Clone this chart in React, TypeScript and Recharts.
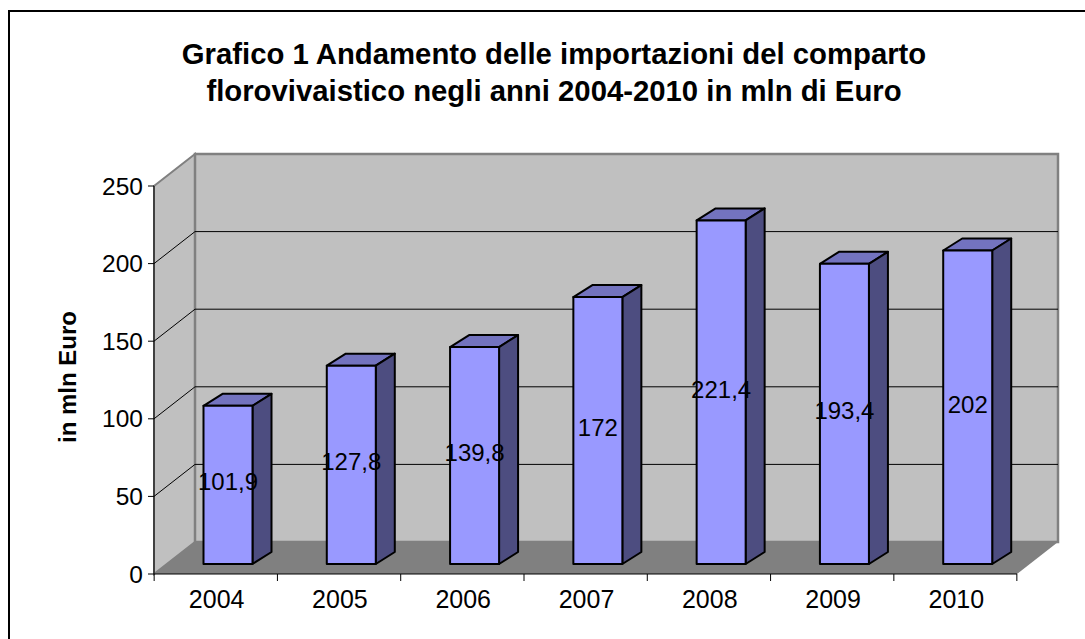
import { BarChart, Bar, XAxis, YAxis, CartesianGrid, ReferenceArea, LabelList } from "recharts";

const years = ["2004", "2005", "2006", "2007", "2008", "2009", "2010"];
const imports = [101.9, 127.8, 139.8, 172, 221.4, 193.4, 202];
const yTicks = [0, 50, 100, 150, 200, 250];

const data = years.map((year, i) => ({ year, value: imports[i] }));

// 3D look: the walls sit behind the front plane, bars sit halfway in the depth
const wallDx = 41;
const wallDy = 32;
const barDx = 12.5;
const barDy = 10;
const depthX = 19;
const depthY = 12;
const bandWidth = 123;

function Walls(props: any) {
  const { x, y, width, height } = props;
  const bottom = y + height;
  const right = x + width;
  return (
    <g>
      {/* side wall */}
      <polygon
        points={`${x},${y} ${x + wallDx},${y - wallDy} ${x + wallDx},${bottom - wallDy} ${x},${bottom}`}
        fill="#c0c0c0"
        stroke="#808080"
        strokeWidth={2}
      />
      {/* back wall */}
      <rect x={x + wallDx} y={y - wallDy} width={width} height={height} fill="#c0c0c0" stroke="#808080" strokeWidth={2.5} />
      {/* floor */}
      <polygon
        points={`${x},${bottom} ${x + wallDx},${bottom - wallDy} ${right + wallDx},${bottom - wallDy} ${right},${bottom}`}
        fill="#808080"
      />
    </g>
  );
}

function GridLine(props: any) {
  const { x1, x2, y1 } = props;
  // skip the lines on the top edge and on the floor
  if (y1 < 190 || y1 > 570) return <g />;
  return (
    <g>
      <line x1={x1} y1={y1} x2={x1 + wallDx} y2={y1 - wallDy} stroke="#000" strokeWidth={1} />
      <line x1={x1 + wallDx} y1={y1 - wallDy} x2={x2 + wallDx} y2={y1 - wallDy} stroke="#000" strokeWidth={1} />
    </g>
  );
}

function Bar3D(props: any) {
  const { x, y, width, height } = props;
  const left = x + barDx;
  const right = left + width;
  const top = y - barDy;
  const bottom = top + height;
  return (
    <g stroke="#000" strokeWidth={2} strokeLinejoin="round">
      <polygon
        points={`${left},${top} ${left + depthX},${top - depthY} ${right + depthX},${top - depthY} ${right},${top}`}
        fill="#7373bf"
      />
      <polygon
        points={`${right},${top} ${right + depthX},${top - depthY} ${right + depthX},${bottom - depthY} ${right},${bottom}`}
        fill="#4d4d80"
      />
      <rect x={left} y={top} width={width} height={height} fill="#9999ff" />
    </g>
  );
}

function ValueLabel(props: any) {
  const { x, y, width, height, value } = props;
  return (
    <text
      x={x + barDx + width / 2}
      y={y - barDy + height / 2 - 3}
      textAnchor="middle"
      dominantBaseline="central"
      fontSize={24}
      fill="#000"
    >
      {String(value).replace(".", ",")}
    </text>
  );
}

function YearTick(props: any) {
  const { x, y, payload, index } = props;
  const half = bandWidth / 2;
  return (
    <g>
      <line x1={x - half} y1={y - 8} x2={x - half} y2={y - 1} stroke="#000" />
      {index === years.length - 1 && <line x1={x + half} y1={y - 8} x2={x + half} y2={y - 1} stroke="#000" />}
      <text x={x + 1} y={y + 26} textAnchor="middle" fontSize={25} fill="#000">
        {payload.value}
      </text>
    </g>
  );
}

export default function App() {
  return (
    <div
      style={{
        position: "absolute",
        left: 0,
        top: 0,
        width: 1085,
        height: 639,
        overflow: "hidden",
        background: "#fff",
        fontFamily: "'Liberation Sans', Arial, sans-serif",
      }}
    >
      <div
        style={{
          position: "absolute",
          left: 8,
          top: 10,
          width: 1077,
          height: 629,
          borderLeft: "2px solid #000",
          borderTop: "2px solid #000",
        }}
      />
      <div
        style={{
          position: "absolute",
          left: 0,
          width: 1108,
          top: 35,
          textAlign: "center",
          fontWeight: "bold",
          fontSize: 29.3,
          lineHeight: "37px",
          color: "#000",
        }}
      >
        Grafico 1 Andamento delle importazioni del comparto
        <br />
        florovivaistico negli anni 2004-2010 in mln di Euro
      </div>
      <div style={{ position: "absolute", left: 0, top: 0 }}>
        <BarChart
          width={1085}
          height={639}
          data={data}
          margin={{ top: 186, right: 68, bottom: 0, left: 64 }}
          barSize={49}
        >
          <ReferenceArea y1={0} y2={250} shape={<Walls />} zIndex={-200} />
          <CartesianGrid vertical={false} horizontal={(p: any) => <GridLine {...p} />} />
          <XAxis
            dataKey="year"
            axisLine={{ stroke: "#000" }}
            tickLine={false}
            tick={(p: any) => <YearTick {...p} />}
            interval={0}
            height={65}
          />
          <YAxis
            domain={[0, 250]}
            ticks={yTicks}
            width={90}
            axisLine={{ stroke: "#000" }}
            tickLine={{ stroke: "#000" }}
            tickSize={6}
            tick={{ fontSize: 24.5, fill: "#000" }}
            tickMargin={5}
            label={{
              value: "in mln Euro",
              angle: -90,
              position: "insideLeft",
              textAnchor: "middle",
              fontSize: 24,
              fontWeight: "bold",
              fill: "#000",
              dy: -3,
              dx: -2,
            }}
          />
          <Bar dataKey="value" shape={<Bar3D />} isAnimationActive={false}>
            <LabelList dataKey="value" content={<ValueLabel />} />
          </Bar>
        </BarChart>
      </div>
    </div>
  );
}
